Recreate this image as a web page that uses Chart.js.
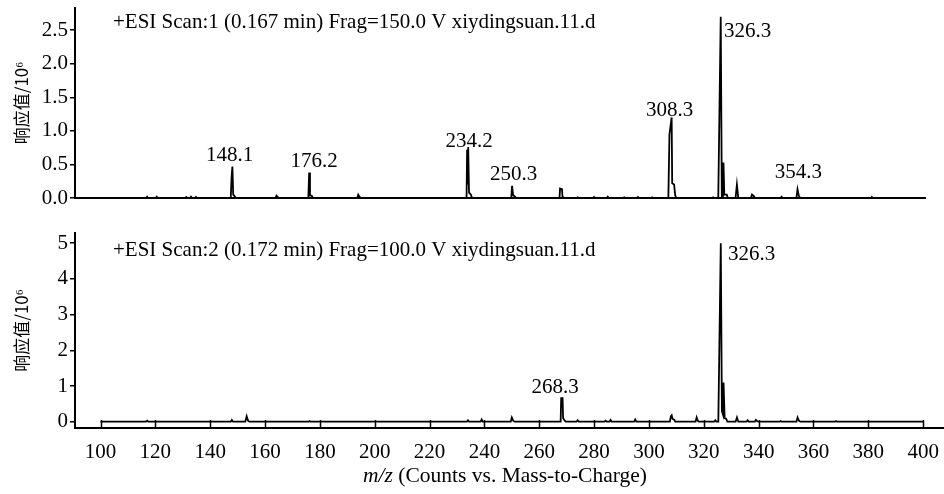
<!DOCTYPE html>
<html><head><meta charset="utf-8">
<script src="https://cdn.jsdelivr.net/npm/chart.js@4.4.1/dist/chart.umd.min.js"></script>
<style>
html,body{margin:0;padding:0;background:#fff;}
body{width:944px;height:494px;position:relative;overflow:hidden;}
canvas{position:absolute;left:0;}
#c1{top:0;} #c2{top:215px;}
</style></head><body>
<canvas id="c1" width="944" height="215"></canvas>
<canvas id="c2" width="944" height="279"></canvas>
<script>
// ---- Data (intensity in 10^6 counts) ----
// Scan 1 (Frag = 150 V)
const mz1 = [100,
  116.6,117.0,117.4, 120.1,120.5,120.9,
  130.8,131.3,131.8, 132.6,133.0,133.4, 134.4,134.8,135.2,
  147.5,147.8,148.1,148.4,148.9,149.3,
  163.8,164.2,164.6,165.0,
  175.8,176.1,176.4,177.1,177.5,
  193.6,194.0,194.4,194.9,
  233.5,233.7,233.9,234.1,234.4,235.1,235.5,
  249.8,250.1,250.5,251.2,251.6,
  267.4,267.6,268.3,268.5,269.0,
  273.6,274.0,274.4, 279.6,280.0,280.4, 284.6,285.0,285.4,
  290.6,291.0,291.4, 295.6,296.0,296.4, 300.8,301.2,301.6,
  307.1,307.5,308.3,308.5,309.2,309.6,310.0,
  323.0,323.4,323.8,
  325.3,326.2,326.6,327.0,327.2,327.5,328.4,328.8,
  331.6,332.1,332.6,
  337.2,337.6,338.2,338.8,
  348.0,348.4,348.8,
  353.8,354.2,354.7,355.2,
  381.0,381.3,381.6,
  400];
const int1 = [0,
  0,0.02,0, 0,0.02,0,
  0,0.015,0, 0,0.02,0, 0,0.015,0,
  0,0.30,0.47,0.05,0.03,0,
  0,0.035,0.015,0,
  0,0.38,0.04,0.03,0,
  0,0.05,0.02,0,
  0,0.72,0.20,0.76,0.08,0.05,0,
  0,0.18,0.04,0.02,0,
  0,0.14,0.13,0.02,0,
  0,0.01,0, 0,0.015,0, 0,0.02,0,
  0,0.01,0, 0,0.015,0, 0,0.01,0,
  0,0.95,1.20,0.22,0.20,0.04,0,
  0,0.01,0,
  0,2.70,0,0,0.53,0.05,0.05,0,
  0,0.20,0,
  0,0.05,0.03,0,
  0,0.02,0,
  0,0.13,0.03,0,
  0,0.015,0,
  0];
// Scan 2 (Frag = 100 V)
const mz2 = [100,
  116.6,117.0,117.4,
  147.5,147.9,148.3,
  152.8,153.3,153.8,154.3,
  175.8,176.2,176.6,
  233.6,234.0,234.4, 238.6,239.0,239.4,
  249.6,250.0,250.5,251.0,
  267.8,268.0,268.5,268.7,269.3,269.7,
  273.6,274.0,274.4,
  283.8,284.2,284.6, 285.6,286.0,286.4,
  294.6,295.0,295.4,
  307.6,308.0,308.3,308.6,309.2,309.6,
  317.0,317.4,317.8,318.2,
  323.8,324.2,324.6,
  325.3,326.2,326.6,327.0,327.2,327.6,328.2,328.6,
  331.6,332.1,332.6,
  335.6,336.0,336.4, 338.6,339.0,339.4,339.8,
  347.6,348.0,348.4,
  353.8,354.2,354.7,355.2,
  367.8,368.2,368.6,
  400];
const int2 = [0,
  0,0.03,0,
  0,0.05,0,
  0,0.15,0.03,0,
  0,0.02,0,
  0,0.04,0, 0,0.06,0,
  0,0.12,0.03,0,
  0,0.66,0.66,0.10,0.03,0,
  0,0.04,0,
  0,0.03,0, 0,0.05,0,
  0,0.06,0,
  0,0.15,0.18,0.08,0.06,0,
  0,0.12,0.03,0,
  0,0.04,0,
  0,5.00,0.30,0.20,1.10,0.10,0.08,0,
  0,0.12,0,
  0,0.04,0, 0,0.05,0.02,0,
  0,0.02,0,
  0,0.12,0.03,0,
  0,0.02,0,
  0];
const xTickValues = [100,120,140,160,180,200,220,240,260,280,300,320,340,360,380,400];
const yTicks1 = [0,0.5,1.0,1.5,2.0,2.5];
const yTicks2 = [0,1,2,3,4,5];
const header1 = '+ESI Scan:1 (0.167 min) Frag=150.0 V xiydingsuan.11.d';
const header2 = '+ESI Scan:2 (0.172 min) Frag=100.0 V xiydingsuan.11.d';
const yTitle = '响应值/10⁶';
const xTitleItalic = 'm/z';
const xTitleRest = ' (Counts vs. Mass-to-Charge)';
const peakText1 = ['148.1','176.2','234.2','250.3','308.3','326.3','354.3'];
const peakText2 = ['268.3','326.3'];

// ---- Label anchors (in data units) ----
const labelAnchors1 = [
  {x:147.1,y:0.545,align:'center'},{x:177.9,y:0.455,align:'center'},{x:234.4,y:0.753,align:'center'},
  {x:250.7,y:0.27,align:'center'},{x:307.6,y:1.214,align:'center'},{x:327.4,y:2.40,align:'left'},
  {x:354.5,y:0.30,align:'center'}];
const labelAnchors2 = [{x:265.8,y:0.81,align:'center'},{x:328.8,y:4.53,align:'left'}];

const SERIF = '"Liberation Serif", "Times New Roman", serif';
const TICKFONT = {family: SERIF, size: 21};

function pts(xs, ys){ return xs.map((v,i)=>({x:v, y:ys[i]})); }

const annotate = {
  id:'annotate',
  afterDraw(chart, args, o){
    const {ctx, chartArea, scales:{x,y}} = chart;
    ctx.save();
    ctx.fillStyle = '#000';
    ctx.strokeStyle = '#000';
    ctx.font = '21px ' + SERIF;
    ctx.textBaseline = 'alphabetic';
    ctx.textAlign = 'left';
    ctx.fillText(o.header, chartArea.left + 38, chartArea.top + o.headerDy);
    o.texts.forEach((t,i)=>{
      const a = o.anchors[i];
      ctx.textAlign = a.align;
      ctx.fillText(t, x.getPixelForValue(a.x), y.getPixelForValue(a.y));
    });
    if (o.innerTicks){
      ctx.lineWidth = 1.5;
      xTickValues.forEach(v=>{
        const px = Math.round(x.getPixelForValue(v)) + 0.5;
        ctx.beginPath();
        ctx.moveTo(px, chartArea.bottom);
        ctx.lineTo(px, chartArea.bottom - 8);
        ctx.stroke();
      });
    }
    if (o.xTitle){
      ctx.textAlign = 'left';
      ctx.font = 'italic 21.5px ' + SERIF;
      const w1 = ctx.measureText(xTitleItalic).width;
      ctx.font = '21.5px ' + SERIF;
      const w2 = ctx.measureText(xTitleRest).width;
      const cx = 505, by = 267;
      const sx = cx - (w1 + w2)/2;
      ctx.font = 'italic 21.5px ' + SERIF;
      ctx.fillText(xTitleItalic, sx, by);
      ctx.font = '21.5px ' + SERIF;
      ctx.fillText(xTitleRest, sx + w1, by);
    }
    ctx.restore();
  }
};

function makeChart(id, cfg){
  return new Chart(document.getElementById(id), {
    type:'line',
    data:{datasets:[{data: pts(cfg.mz, cfg.it), borderColor:'#000', borderWidth:1.8, pointRadius:0, tension:0, fill:false}]},
    options:{
      responsive:false, animation:false, devicePixelRatio:1,
      layout:{padding: cfg.padding},
      plugins:{legend:{display:false}, tooltip:{enabled:false}, annotate: cfg.annot},
      scales:{
        x:{type:'linear', min:cfg.xmin, max:cfg.xmax,
           afterBuildTicks: s => { s.ticks = xTickValues.map(v=>({value:v})); },
           afterFit: s => { s.height = cfg.xh; s.paddingLeft = 0; s.paddingRight = 0; },
           grid:{drawOnChartArea:false, drawTicks:false, color:'#000'},
           border:{color:'#000', width:2},
           ticks:{display:cfg.showX, color:'#000', font:TICKFONT, padding:12, maxRotation:0, autoSkip:false}},
        y:{min:cfg.ymin, max:cfg.ymax,
           afterBuildTicks: s => { s.ticks = cfg.yt.map(v=>({value:v})); },
           afterFit: s => { s.width = 75; s.paddingTop = 0; s.paddingBottom = 0; },
           grid:{drawOnChartArea:false, drawTicks:true, tickLength:5, color:'#000', lineWidth:1.5},
           border:{color:'#000', width:2},
           ticks:{color:'#000', font:TICKFONT, padding:2, callback: cfg.fmt},
           title:{display:true, text:yTitle, color:'#000',
                  font:{family:'"Noto Sans CJK SC", '+SERIF, size:17}, padding:{top:11,bottom:0}}}
      }
    },
    plugins:[annotate]
  });
}

makeChart('c1', {mz:mz1, it:int1, xmin:90.7, xmax:400.7, ymin:0, ymax:2.83, yt:yTicks1,
  fmt: v => v.toFixed(1), padding:{top:8,right:19,bottom:0,left:0}, xh:17, showX:false,
  annot:{header:header1, headerDy:19.5, texts:peakText1, anchors:labelAnchors1, innerTicks:false, xTitle:false}});
makeChart('c2', {mz:mz2, it:int2, xmin:90.7, xmax:407.6, ymin:-0.176, ymax:5.285, yt:yTicks2,
  fmt: v => String(v), padding:{top:18,right:0,bottom:0,left:0}, xh:66, showX:true,
  annot:{header:header2, headerDy:23, texts:peakText2, anchors:labelAnchors2, innerTicks:true, xTitle:true}});
</script>
</body></html>
